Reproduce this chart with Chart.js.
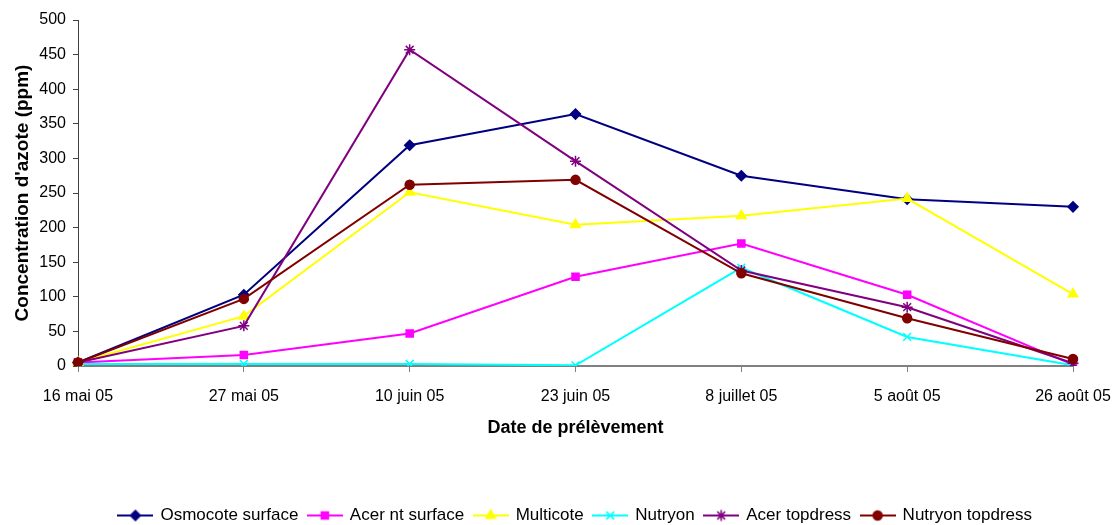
<!DOCTYPE html>
<html>
<head>
<meta charset="utf-8">
<script src="https://cdn.jsdelivr.net/npm/chart.js@4/dist/chart.umd.min.js"></script>
<style>
  html, body { margin: 0; padding: 0; background: #fff; }
  #wrap { width: 1114px; height: 525px; }
</style>
</head>
<body>
<div id="wrap"><canvas id="azote"></canvas></div>
<script>
// Data
const dates = ['16 mai 05', '27 mai 05', '10 juin 05', '23 juin 05', '8 juillet 05', '5 août 05', '26 août 05'];
const osmocoteSurface = [5, 103, 319, 364, 275, 241, 230];
const acerNtSurface = [5, 16, 47, 129, 177, 103, 2];
const multicote = [5, 72, 251, 204, 217, 242, 104];
const nutryon = [3, 3, 3, 1, 142, 42, 1];
const acerTopdress = [5, 58, 457, 296, 138, 85, 4];
const nutryonTopdress = [5, 97, 262, 269, 134, 69, 10];
const yTicks = [0, 50, 100, 150, 200, 250, 300, 350, 400, 450, 500];

const FONT = "'Liberation Sans', Arial, sans-serif";

const series = [
    { label: 'Osmocote surface', data: osmocoteSurface, color: '#000080', style: 'rectRot', radius: 5 },
    { label: 'Acer nt surface', data: acerNtSurface, color: '#FF00FF', style: 'rect', radius: 5 },
    { label: 'Multicote', data: multicote, color: '#FFFF00', style: 'triangle', radius: 5.5 },
    { label: 'Nutryon', data: nutryon, color: '#00FFFF', style: 'crossRot', radius: 5.5 },
    { label: 'Acer topdress', data: acerTopdress, color: '#800080', style: 'star', radius: 5.5 },
    { label: 'Nutryon topdress', data: nutryonTopdress, color: '#800000', style: 'circle', radius: 4.5 }
];

// Small line + marker picture used as legend symbol
function legendSwatch(s) {
    const c = document.createElement('canvas');
    c.width = 36;
    c.height = 14;
    const g = c.getContext('2d');
    g.strokeStyle = s.color;
    g.lineWidth = 2;
    g.beginPath();
    g.moveTo(0, 7);
    g.lineTo(36, 7);
    g.stroke();
    g.fillStyle = s.color;
    g.lineWidth = 1.5;
    Chart.helpers.drawPoint(g, { pointStyle: s.style, radius: s.radius, rotation: 0, borderWidth: 1.5 }, 18, 7);
    return c;
}
const swatches = series.map(legendSwatch);

const datasets = series.map((s, i) => ({
    label: s.label,
    data: s.data,
    borderColor: s.color,
    backgroundColor: s.color,
    borderWidth: 2,
    tension: 0,
    pointStyle: s.style,
    pointRadius: s.radius,
    pointBackgroundColor: s.color,
    pointBorderColor: s.color,
    pointBorderWidth: 1.5,
    order: series.length - i
}));

new Chart(document.getElementById('azote'), {
    type: 'line',
    data: { labels: dates, datasets: datasets },
    options: {
        responsive: true,
        maintainAspectRatio: false,
        animation: false,
        layout: { padding: { top: 20, right: 41, bottom: -9, left: 0 } },
        plugins: {
            tooltip: { enabled: false },
            legend: {
                position: 'bottom',
                fullSize: false,
                labels: {
                    usePointStyle: true,
                    pointStyleWidth: 33,
                    padding: 10,
                    color: '#000',
                    font: { family: FONT, size: 17 },
                    generateLabels: function (chart) {
                        const items = Chart.defaults.plugins.legend.labels.generateLabels(chart);
                        items.sort((a, b) => a.datasetIndex - b.datasetIndex);
                        items.forEach(it => { it.pointStyle = swatches[it.datasetIndex]; });
                        return items;
                    }
                }
            }
        },
        scales: {
            x: {
                offset: false,
                grid: { drawOnChartArea: false, drawTicks: true, tickLength: 6, color: '#808080', offset: false },
                border: { display: true, color: '#808080', width: 2 },
                ticks: { color: '#000', font: { family: FONT, size: 16 }, padding: 15, maxRotation: 0, autoSkip: false },
                title: {
                    display: true,
                    text: 'Date de prélèvement',
                    color: '#000',
                    font: { family: FONT, size: 18, weight: 'bold' },
                    padding: { top: 0, bottom: 58 }
                },
                afterFit: function (scale) {
                    scale.height = 131;
                    scale.paddingLeft = 0;
                    scale.paddingRight = 0;
                }
            },
            y: {
                min: 0,
                max: 500,
                afterBuildTicks: function (scale) { scale.ticks = yTicks.map(v => ({ value: v })); },
                grid: { drawOnChartArea: false, drawTicks: true, tickLength: 5, color: '#404040' },
                border: { display: true, color: '#404040', width: 1 },
                ticks: { color: '#000', font: { family: FONT, size: 16 }, padding: 7 },
                title: {
                    display: true,
                    text: "Concentration d'azote (ppm)",
                    color: '#000',
                    font: { family: FONT, size: 19, weight: 'bold' },
                    padding: { top: 11, bottom: 0 }
                },
                afterFit: function (scale) { scale.width = 78; }
            }
        }
    }
});
</script>
</body>
</html>
